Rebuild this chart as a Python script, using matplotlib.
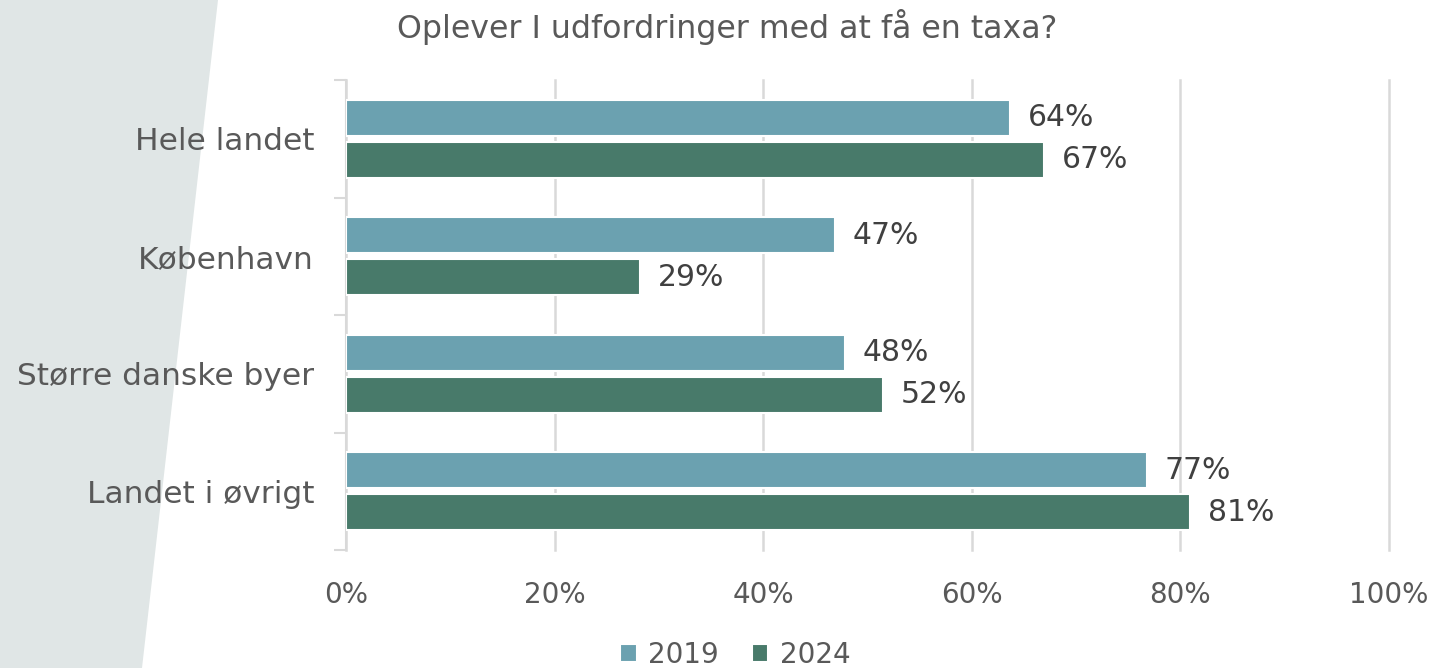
import matplotlib.pyplot as plt
import numpy as np
from matplotlib.patches import Polygon

# Data
categories = ["Hele landet", "København", "Større danske byer", "Landet i øvrigt"]
v2019 = [63.7, 46.9, 47.8, 76.8]
v2024 = [66.9, 28.2, 51.5, 80.9]
lab2019 = ["64%", "47%", "48%", "77%"]
lab2024 = ["67%", "29%", "52%", "81%"]
xticks = [0, 20, 40, 60, 80, 100]

c2019 = "#6ba1b0"
c2024 = "#487a6a"
txt = "#595959"

plt.rcParams['font.family'] = ['DejaVu Sans']

fig = plt.figure(figsize=(14.31, 6.68), dpi=100)
# background shape on the left
fig.patches.append(Polygon([[0, 1], [218/1431, 1], [142/1431, 0], [0, 0]],
                           closed=True, transform=fig.transFigure,
                           facecolor="#e0e6e6", edgecolor="none", zorder=0))

ax = fig.add_axes([346/1431, 1-550/668, 1043/1431, 470/668])
ax.set_zorder(2)
ax.patch.set_alpha(0)

y = np.arange(len(categories))
h = 0.31
off = 0.179
ax.barh(y - off, v2019, height=h, color=c2019, edgecolor="white", linewidth=1.5, label="2019", zorder=3)
ax.barh(y + off, v2024, height=h, color=c2024, edgecolor="white", linewidth=1.5, label="2024", zorder=3)

for i in range(len(categories)):
    ax.text(v2019[i] + 1.7, y[i] - off, lab2019[i], va="center", ha="left", fontsize=21.5, color="#404040")
    ax.text(v2024[i] + 1.7, y[i] + off, lab2024[i], va="center", ha="left", fontsize=21.5, color="#404040")

ax.set_xlim(0, 100)
ax.set_ylim(3.5, -0.5)
ax.set_xticks(xticks)
ax.set_xticklabels([f"{t}%" for t in xticks], fontsize=20, color=txt)
ax.tick_params(axis="x", length=0, pad=22)
ax.set_yticks(y)
ax.set_yticklabels(categories, fontsize=22.5, color=txt)
ax.set_yticks(np.arange(-0.5, 4, 1), minor=True)
ax.tick_params(axis="y", which="major", length=0, pad=23)
ax.tick_params(axis="y", which="minor", length=9, width=1.5, color="#d9d9d9")

ax.grid(axis="x", color="#d9d9d9", linewidth=1.8, zorder=0)
for gl in ax.get_xgridlines():
    gl.set_clip_on(False)
ax.set_axisbelow(True)
for s in ["top", "right", "bottom"]:
    ax.spines[s].set_visible(False)
ax.spines["left"].set_color("#d9d9d9")
ax.spines["left"].set_linewidth(1.5)

fig.text(727/1431, 1-27/668, "Oplever I udfordringer med at få en taxa?", fontsize=22.8,
         color=txt, ha="center", va="center")

leg = fig.legend(loc="center", bbox_to_anchor=(735/1431, 1-655/668), ncol=2, frameon=False,
                 fontsize=20, labelcolor=txt, handlelength=0.6, handleheight=0.6,
                 handletextpad=0.4, columnspacing=1.2)

fig.savefig("out.png", dpi=100)
